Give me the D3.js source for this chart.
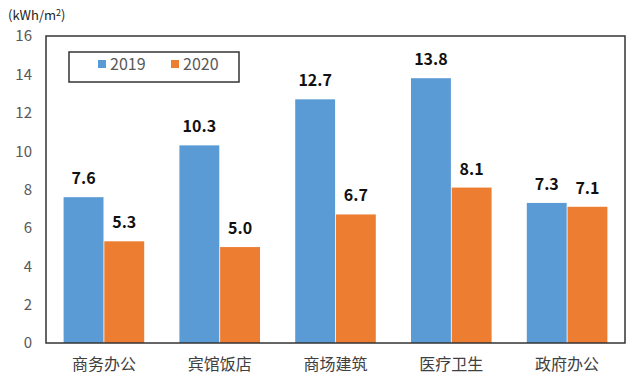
<!DOCTYPE html>
<html lang="zh">
<head>
<meta charset="utf-8">
<title>单位面积能耗</title>
<script src="https://cdn.jsdelivr.net/npm/d3@7"></script>
<style>
  body { margin: 0; background: #fff; }
  text { font-family: "Noto Sans CJK SC", "Open Sans", sans-serif; }
</style>
</head>
<body>
<svg id="chart" width="640" height="380"></svg>
<script>
var categories = ["商务办公", "宾馆饭店", "商场建筑", "医疗卫生", "政府办公"];
var series = ["2019", "2020"];
var values2019 = [7.6, 10.3, 12.7, 13.8, 7.3];
var values2020 = [5.3, 5.0, 6.7, 8.1, 7.1];
var yTicks = [0, 2, 4, 6, 8, 10, 12, 14, 16];
var colors = ["#5B9BD5", "#ED7D31"];

var svg = d3.select("#chart");
var plotL = 46, plotR = 625, plotT = 36, plotB = 343;

var x = d3.scaleBand().domain(categories).range([plotL, plotR]).paddingInner(0.29).paddingOuter(0.145);
var xs = d3.scaleBand().domain(series).range([0, x.bandwidth()]).padding(0.02);
var y = d3.scaleLinear().domain([0, 16]).range([plotB, plotT]);

// unit
svg.append("text").attr("x", 8).attr("y", 20)
  .attr("font-size", 13).attr("fill", "#222")
  .html('(kWh/m<tspan dy="-4" font-size="9">2</tspan><tspan dy="4">)</tspan>');

// y tick labels
svg.append("g").selectAll("text").data(yTicks).enter().append("text")
  .attr("x", 32).attr("y", function(d){ return y(d); }).attr("dy", "0.36em")
  .attr("text-anchor", "end").attr("font-size", 15).attr("fill", "#595959")
  .text(function(d){ return d; });

// bars
var rows = categories.map(function(c, i){ return {cat: c, vals: [values2019[i], values2020[i]]}; });
var groups = svg.append("g").selectAll("g").data(rows).enter().append("g")
  .attr("transform", function(d){ return "translate(" + x(d.cat) + ",0)"; });

groups.selectAll("rect").data(function(d){ return d.vals.map(function(v, j){ return {s: series[j], v: v, j: j}; }); })
  .enter().append("rect")
  .attr("x", function(d){ return xs(d.s); })
  .attr("width", xs.bandwidth())
  .attr("y", function(d){ return y(d.v); })
  .attr("height", function(d){ return y(0) - y(d.v); })
  .attr("fill", function(d){ return colors[d.j]; });

groups.selectAll("text.val").data(function(d){ return d.vals.map(function(v, j){ return {s: series[j], v: v}; }); })
  .enter().append("text").attr("class", "val")
  .attr("x", function(d){ return xs(d.s) + xs.bandwidth() / 2; })
  .attr("y", function(d){ return y(d.v) - 13; })
  .attr("text-anchor", "middle").attr("font-size", 16).attr("font-weight", 600).attr("fill", "#111")
  .text(function(d){ return d.v.toFixed(1); });

// category labels
svg.append("g").selectAll("text").data(categories).enter().append("text")
  .attr("x", function(d){ return x(d) + x.bandwidth() / 2; }).attr("y", 370)
  .attr("text-anchor", "middle").attr("font-size", 16).attr("fill", "#404040")
  .text(function(d){ return d; });

// frame
svg.append("rect").attr("x", plotL).attr("y", plotT).attr("width", plotR - plotL).attr("height", plotB - plotT)
  .attr("fill", "none").attr("stroke", "#333").attr("stroke-width", 1.5);

// legend
var lg = svg.append("g");
lg.append("rect").attr("x", 69).attr("y", 52).attr("width", 170).attr("height", 30)
  .attr("fill", "#fff").attr("stroke", "#333").attr("stroke-width", 1.5);
var lx = [98, 171];
series.forEach(function(s, i){
  lg.append("rect").attr("x", lx[i]).attr("y", 60).attr("width", 8).attr("height", 8).attr("fill", colors[i]);
  lg.append("text").attr("x", lx[i] + 12).attr("y", 64).attr("dy", "0.36em")
    .attr("font-size", 16).attr("fill", "#595959").text(s);
});
</script>
</body>
</html>
